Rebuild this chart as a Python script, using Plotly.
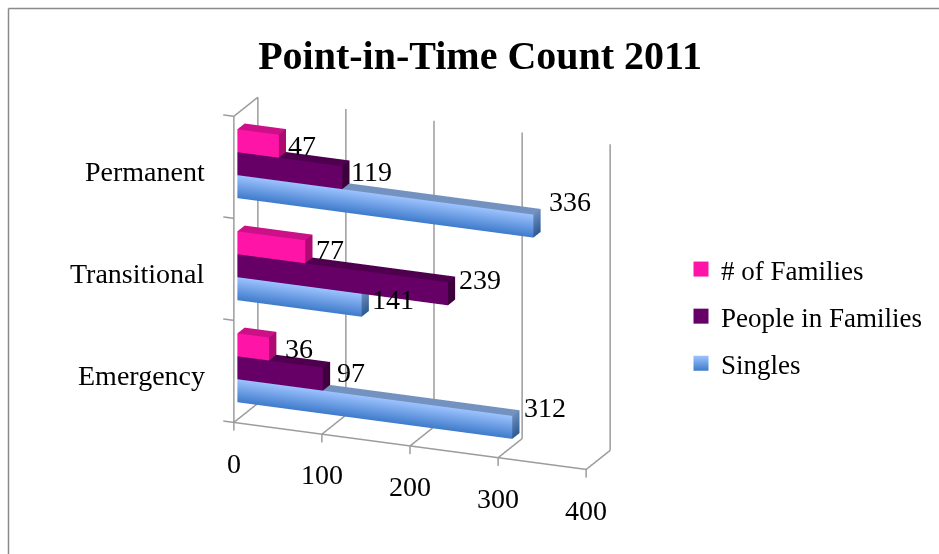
import plotly.graph_objects as go

categories = ["Emergency", "Transitional", "Permanent"]
singles = [312, 141, 336]
people_in_families = [97, 239, 119]
families = [36, 77, 47]
value_ticks = [0, 100, 200, 300, 400]
title = "Point-in-Time Count 2011"
FONT = "Liberation Serif"
W, H = 939, 554
THICK = 0.225
BASE = 0.17
Y0, Y1 = 0.15, 0.45

# small placement offsets for the data labels, (along value axis, along height)
singles_nudge = [(-5, 0.14), (-6, 0.0), (0, 0.19)]
people_nudge = [(-2, 0.015), (-6, 0.085), (-8, 0.0)]
families_nudge = [(0, -0.045), (-6, -0.035), (-8, -0.055)]


def bars(name, values, slot, front_top, front_bot, top, side_top, side_bot):
    xs, ys, zs, cs, i, j, k = [], [], [], [], [], [], []

    def quad(pts, cols):
        n = len(xs)
        for p, c in zip(pts, cols):
            xs.append(p[0]); ys.append(p[1]); zs.append(p[2]); cs.append(c)
        i.extend([n, n]); j.extend([n + 1, n + 2]); k.extend([n + 2, n + 3])

    for c, v in enumerate(values):
        z0 = c + BASE + slot * THICK
        z1 = z0 + THICK
        quad([(0, Y0, z0), (v, Y0, z0), (v, Y0, z1), (0, Y0, z1)],
             [front_bot, front_bot, front_top, front_top])
        quad([(0, Y0, z1), (v, Y0, z1), (v, Y1, z1), (0, Y1, z1)], [top] * 4)
        quad([(v, Y0, z0), (v, Y1, z0), (v, Y1, z1), (v, Y0, z1)],
             [side_bot, side_bot, side_top, side_top])
    return go.Mesh3d(x=xs, y=ys, z=zs, i=i, j=j, k=k, vertexcolor=cs, name=name,
                     flatshading=True, showlegend=False, hoverinfo="skip",
                     lighting=dict(ambient=1, diffuse=0, specular=0, fresnel=0, roughness=1))


fig = go.Figure()
fig.add_trace(bars("Singles", singles, 0, "#9DC3FF", "#3E7BCB", "#7492BF", "#6C8DBE", "#2D5A92"))
fig.add_trace(bars("People in Families", people_in_families, 1, "#660066", "#660066", "#4E004E", "#3D003D", "#3D003D"))
fig.add_trace(bars("# of Families", families, 2, "#FF14A8", "#FF14A8", "#CC1087", "#AE0A72", "#AE0A72"))

lx, ly, lz = [], [], []


def seg(a, b):
    lx.extend([a[0], b[0], None]); ly.extend([a[1], b[1], None]); lz.extend([a[2], b[2], None])


top_z = len(categories)
for v in value_ticks:
    seg((v, 0, 0), (v, 1, 0))
    seg((v, 1, 0), (v, 1, top_z))
    seg((v, 0, 0), (v, 0, -0.08))
seg((0, 0, 0), (400, 0, 0))
seg((0, 0, 0), (0, 0, top_z))
seg((0, 0, top_z), (0, 1, top_z))
for c in range(len(categories) + 1):
    seg((0, 0, c), (-12, 0, c))
fig.add_trace(go.Scatter3d(x=lx, y=ly, z=lz, mode="lines", showlegend=False, hoverinfo="skip",
                           line=dict(color="#9C9C9C", width=3)))

# legend entries
for name, c0, c1 in [("# of Families", "#FF14A8", "#FF14A8"),
                     ("People in Families", "#660066", "#660066"),
                     ("Singles", "#9DC3FF", "#3E7BCB")]:
    fig.add_trace(go.Scatter(x=[None], y=[None], mode="markers", name=name, legendgroup=name,
                             marker=dict(symbol="square", size=15, color=c0,
                                         gradient=dict(type="vertical", color=c1))))

ann = []
font = dict(family=FONT, size=28, color="black")


def label(x, y, z, text, anchor="center"):
    ann.append(dict(x=x, y=y, z=z, text=str(text), showarrow=False, xanchor=anchor, yanchor="middle",
                    font=font))


for v in value_ticks:
    label(v, 0, -0.4, v)
for c, name in enumerate(categories):
    label(-30, 0, c + 0.42, name, "right")
for c in range(len(categories)):
    for slot, (vals, nudge) in enumerate([(singles, singles_nudge), (people_in_families, people_nudge),
                                          (families, families_nudge)]):
        label(vals[c] + 8 + nudge[c][0], Y1, c + BASE + (slot + 0.5) * THICK + nudge[c][1], vals[c], "left")

k = 2.0
fig.update_layout(
    width=W, height=H, margin=dict(l=0, r=0, t=0, b=0),
    paper_bgcolor="white", plot_bgcolor="white",
    xaxis=dict(visible=False), yaxis=dict(visible=False),
    title=dict(text="<b>" + title + "</b>", x=480 / W, xanchor="center", y=1 - 55 / H, yanchor="middle",
               font=dict(family=FONT, size=40, color="black")),
    legend=dict(x=681 / W, y=1 - 245 / H, xanchor="left", yanchor="top", tracegroupgap=9,
                font=dict(family=FONT, size=27, color="black"), bgcolor="rgba(0,0,0,0)"),
    shapes=[dict(type="line", xref="paper", yref="paper", x0=8.5 / W, x1=1, y0=1 - 8.5 / H, y1=1 - 8.5 / H,
                 line=dict(color="#8A8A8A", width=1.5)),
            dict(type="line", xref="paper", yref="paper", x0=8.5 / W, x1=8.5 / W, y0=0, y1=1 - 8.5 / H,
                 line=dict(color="#8A8A8A", width=1.5))],
    scene=dict(
        domain=dict(x=[0, 0.86], y=[0, 0.86]),
        xaxis=dict(visible=False, range=[-40, 410]),
        yaxis=dict(visible=False, range=[-0.5, 1.1]),
        zaxis=dict(visible=False, range=[-0.7, 3.1]),
        aspectmode="manual", aspectratio=dict(x=1.8, y=0.4256, z=1.723),
        camera=dict(projection=dict(type="orthographic"),
                    eye=dict(x=0.41 * k, y=-1 * k, z=0.372 * k), up=dict(x=0, y=0, z=1)),
        annotations=ann,
    ),
)
fig.write_html("out.html", post_script="document.body.style.margin='0';", config=dict(displayModeBar=False))
